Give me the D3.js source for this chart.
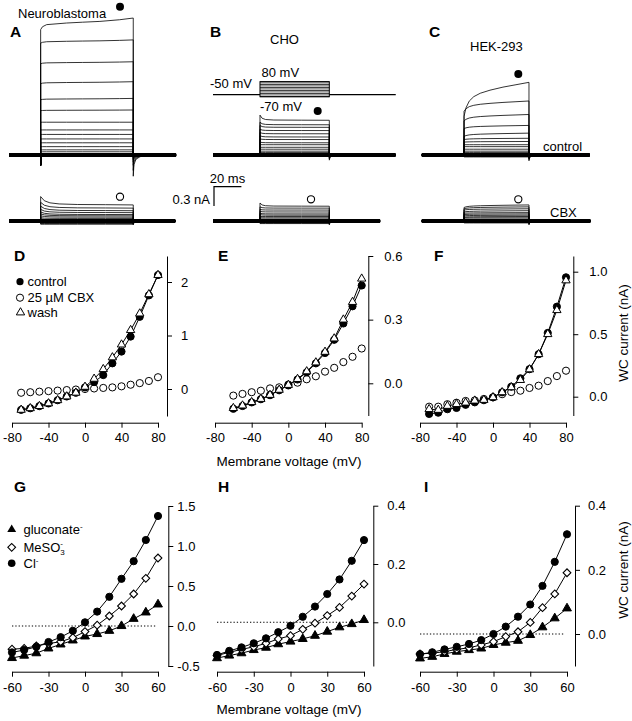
<!DOCTYPE html>
<html><head><meta charset="utf-8">
<script src="https://cdn.jsdelivr.net/npm/d3@7"></script>
<style>
body{margin:0;background:#fff}
svg{display:block}
text{font-family:"Liberation Sans",Arial,sans-serif;fill:#000}
</style>
</head><body>
<svg id="c" width="632" height="721"></svg>
<script>
// ================= DATA =================
// voltage steps (mV) of the protocol, holding potential
const stepVoltages = [-70,-60,-50,-40,-30,-20,-10,0,10,20,30,40,50,60,70,80];
const holdingPotential = -50;

// whole-cell current traces (nA): value at start and end of pulse, tail at pulse off
const cellNames = ["Neuroblastoma", "CHO", "HEK-293"];
const pulseOnMs  = [23.1, 34.3, 30.9];
const pulseOffMs = [90.7, 84.9, 78.3];
const sweepEndMs = [122, 133.4, 122.8];
const cbxSweepEndMs = [121.5, 122, 123.3];
const onsetDip = [-0.16, 0, 0];

const neuroStart = [-0.02,0.02,0.05,0.08,0.13,0.19,0.25,0.32,0.39,0.51,0.69,0.86,1.11,1.42,1.74,1.95];
const neuroEnd   = [-0.02,0.02,0.05,0.08,0.13,0.19,0.25,0.32,0.39,0.51,0.70,0.88,1.14,1.45,1.79,2.13];
const neuroTail  = [0,0,0,0,0,0,-0.01,-0.02,-0.03,-0.04,-0.06,-0.08,-0.11,-0.16,-0.24,-0.33];
const choStart   = [-0.02,0,0.02,0.04,0.06,0.09,0.12,0.16,0.2,0.25,0.3,0.35,0.4,0.46,0.51,0.62];
const choEnd     = [-0.02,0,0.02,0.04,0.06,0.09,0.12,0.16,0.19,0.24,0.28,0.33,0.38,0.43,0.47,0.54];
const choTail    = [0,0,0,0,0,0,0,-0.01,-0.01,-0.02,-0.03,-0.03,-0.04,-0.05,-0.06,-0.08];
const hekStart   = [-0.03,-0.02,0,0.02,0.04,0.06,0.09,0.13,0.16,0.2,0.24,0.29,0.41,0.53,0.68,0.6];
const hekEnd     = [-0.03,-0.02,0,0.02,0.04,0.06,0.09,0.13,0.16,0.21,0.26,0.34,0.46,0.63,0.84,1.13];
const hekTail    = [0,0,0,0,0,0,-0.01,-0.01,-0.02,-0.02,-0.03,-0.04,-0.05,-0.06,-0.07,-0.09];

const cbxNeuroStart = [-0.05,-0.04,-0.03,-0.02,-0.01,0,0.01,0.03,0.05,0.08,0.11,0.14,0.18,0.23,0.29,0.38];
const cbxNeuroEnd   = [-0.05,-0.04,-0.03,-0.02,-0.01,0,0.01,0.02,0.04,0.06,0.08,0.1,0.13,0.16,0.2,0.25];
const cbxChoStart   = [-0.04,-0.03,-0.02,-0.01,0,0.01,0.02,0.03,0.05,0.07,0.1,0.12,0.15,0.18,0.22,0.28];
const cbxChoEnd     = [-0.04,-0.03,-0.02,-0.01,0,0.01,0.02,0.03,0.05,0.07,0.09,0.11,0.14,0.17,0.2,0.23];
const cbxHekStart   = [-0.03,-0.02,-0.01,0,0.01,0.02,0.03,0.05,0.06,0.08,0.1,0.12,0.14,0.17,0.19,0.21];
const cbxHekEnd     = [-0.03,-0.02,-0.01,0,0.01,0.02,0.03,0.05,0.07,0.09,0.11,0.13,0.16,0.19,0.22,0.25];
const cbxTail       = [0,0,0,0,0,0,0,-0.01,-0.01,-0.02,-0.02,-0.03,-0.03,-0.04,-0.05,-0.06];

// time courses within the pulse (fraction of pulse, fraction from start to end value)
const neuroShapeT = [0,0.02,0.065,0.28,0.45,0.64,0.85,1];
const neuroShapeF = [0,0.25,0.43,0.57,0.64,0.71,0.85,1];
const choShapeT = [0,0.03,0.08,0.2,0.6,1];
const choShapeF = [0,0.6,0.85,0.95,0.98,1];
const hekShapeT = [0,0.03,0.08,0.15,0.25,0.4,0.6,0.8,1];
const hekShapeF = [0,0.25,0.45,0.58,0.68,0.77,0.86,0.93,1];
const cbxDecayT = [0,0.04,0.1,0.2,0.4,0.7,1];
const cbxDecayF = [0,0.5,0.75,0.88,0.95,0.97,1];
const tailMs = [0.5,2,5,12];
const tailFrac = [0.45,0.2,0.08,0];

// scale bars
const scaleBarMs = 20, scaleBarNA = 0.3;

// I-V data, panels D-F (nA)
const vD = [-70,-60,-50,-40,-30,-20,-10,0,10,20,30,40,50,60,70,80];
const dControl = [-0.39,-0.36,-0.32,-0.27,-0.21,-0.14,-0.07,0.03,0.13,0.26,0.48,0.70,0.98,1.35,1.75,2.13];
const dCbx     = [-0.07,-0.06,-0.05,-0.04,-0.03,-0.02,-0.01,0,0.01,0.02,0.03,0.05,0.08,0.11,0.15,0.22];
const dWash    = [-0.39,-0.36,-0.32,-0.27,-0.21,-0.14,-0.07,0.04,0.19,0.37,0.59,0.83,1.10,1.41,1.77,2.13];
const vE = [-60,-50,-40,-30,-20,-10,0,10,20,30,40,50,60,70,80];
const eControl = [-0.12,-0.107,-0.09,-0.075,-0.056,-0.033,-0.01,0.018,0.052,0.094,0.143,0.205,0.282,0.363,0.461];
const eCbx     = [-0.058,-0.05,-0.042,-0.035,-0.024,-0.019,-0.006,0.003,0.019,0.033,0.055,0.073,0.1,0.125,0.164];
const eWash    = [-0.117,-0.105,-0.089,-0.074,-0.055,-0.031,-0.008,0.02,0.056,0.098,0.148,0.211,0.30,0.383,0.493];
const vF = [-70,-60,-50,-40,-30,-20,-10,0,10,20,30,40,50,60,70,80];
const fControl = [-0.138,-0.128,-0.1,-0.09,-0.065,-0.045,-0.028,-0.005,0.035,0.08,0.147,0.22,0.34,0.51,0.72,0.955];
const fCbx     = [-0.08,-0.08,-0.06,-0.048,-0.034,-0.03,-0.018,-0.005,0.02,0.037,0.048,0.07,0.088,0.125,0.165,0.208];
const fWash    = [-0.1,-0.106,-0.074,-0.06,-0.048,-0.032,-0.026,-0.005,0.035,0.075,0.133,0.218,0.34,0.5,0.692,0.93];

// I-V data, panels G-I (nA)
const vG = [-60,-50,-40,-30,-20,-10,0,10,20,30,40,50,60];
const gGluconate = [-0.40,-0.37,-0.34,-0.28,-0.23,-0.18,-0.13,-0.10,-0.06,0.0,0.09,0.17,0.27];
const gMeSO3     = [-0.29,-0.28,-0.25,-0.22,-0.196,-0.146,-0.07,0.01,0.125,0.25,0.40,0.596,0.85];
const gCl        = [-0.33,-0.30,-0.26,-0.20,-0.14,-0.06,0.046,0.18,0.365,0.59,0.81,1.075,1.375];
const hGluconate = [-0.123,-0.114,-0.106,-0.095,-0.087,-0.075,-0.066,-0.057,-0.046,-0.032,-0.017,-0.006,0.008];
const hMeSO3     = [-0.114,-0.103,-0.093,-0.084,-0.072,-0.057,-0.046,-0.024,-0.003,0.023,0.051,0.09,0.131];
const hCl        = [-0.112,-0.098,-0.086,-0.072,-0.055,-0.034,-0.012,0.019,0.054,0.097,0.147,0.211,0.282];
const iGluconate = [-0.076,-0.071,-0.062,-0.055,-0.05,-0.045,-0.034,-0.027,-0.021,-0.003,0.021,0.049,0.08];
const iMeSO3     = [-0.062,-0.06,-0.055,-0.048,-0.043,-0.034,-0.024,-0.008,0.007,0.036,0.082,0.125,0.191];
const iCl        = [-0.063,-0.057,-0.048,-0.04,-0.031,-0.019,0.0,0.023,0.054,0.092,0.15,0.225,0.311];

// tick labels
const ticksX1 = [-80,-40,0,40,80];
const ticksX2 = [-60,-30,0,30,60];
const ticksD = [0,1,2], ticksE = [0,0.3,0.6], ticksF = [0,0.5,1.0];
const ticksG = [-0.5,0,0.5,1.0,1.5], ticksH = [0,0.2,0.4], ticksI = [0,0.2,0.4];

// ================= DRAW =================
const svg = d3.select("#c");
const PX_MS = 1.37, PX_NA = 64.3;

function txt(x, y, s, opt = {}) {
  const t = svg.append("text").attr("x", x).attr("y", y)
    .attr("font-size", opt.size || 13).text(s);
  if (opt.bold) t.attr("font-weight", "bold");
  if (opt.anchor) t.attr("text-anchor", opt.anchor);
  return t;
}

// ---- current traces ----
const lineGen = d3.line();
function drawSweeps(ci, x0, base, starts, ends, tails, shT, shF, sweepEnd, dip) {
  const xs = d3.scaleLinear().domain([0, 1]).range([x0, x0 + PX_MS]);
  const ys = d3.scaleLinear().domain([0, 1]).range([base, base - PX_NA]);
  const tOn = pulseOnMs[ci], tOff = pulseOffMs[ci];
  // baseline band
  svg.append("path").attr("d", lineGen([[xs(0), ys(0)], [xs(sweepEnd), ys(0)]]))
    .attr("stroke", "#000").attr("stroke-width", 4).attr("fill", "none");
  const g = svg.append("g");
  starts.forEach((s, k) => {
    const e = ends[k], tl = tails[k];
    const pts = [[0, 0], [tOn, 0]];
    if (dip) pts.push([tOn, dip]);
    shT.forEach((f, j) => pts.push([tOn + f * (tOff - tOn), s + (e - s) * shF[j]]));
    pts.push([tOff, tl]);
    tailMs.forEach((tt, j) => pts.push([tOff + tt, tl * tailFrac[j]]));
    pts.push([sweepEnd, 0]);
    g.append("path").attr("d", lineGen(pts.map(p => [xs(p[0]), ys(p[1])])))
      .attr("fill", "none").attr("stroke", "#000").attr("stroke-width", 0.8);
  });
  return {xs, ys};
}

const ctrlBase = 155, cbxBase = 221;
const cellX0 = [9, 213, 421.7];
drawSweeps(0, cellX0[0], ctrlBase, neuroStart, neuroEnd, neuroTail, neuroShapeT, neuroShapeF, sweepEndMs[0], onsetDip[0]);
const bScales = drawSweeps(1, cellX0[1], ctrlBase, choStart, choEnd, choTail, choShapeT, choShapeF, sweepEndMs[1], onsetDip[1]);
drawSweeps(2, cellX0[2], ctrlBase, hekStart, hekEnd, hekTail, hekShapeT, hekShapeF, sweepEndMs[2], onsetDip[2]);
drawSweeps(0, cellX0[0], cbxBase, cbxNeuroStart, cbxNeuroEnd, cbxTail, cbxDecayT, cbxDecayF, cbxSweepEndMs[0], 0);
drawSweeps(1, cellX0[1], cbxBase, cbxChoStart, cbxChoEnd, cbxTail, choShapeT, choShapeF, cbxSweepEndMs[1], 0);
drawSweeps(2, cellX0[2], cbxBase, cbxHekStart, cbxHekEnd, cbxTail, hekShapeT, hekShapeF, cbxSweepEndMs[2], 0);

// voltage protocol (CHO panel)
const vScale = d3.scaleLinear().domain([-70, 80]).range([96.7, 81.7]);
const bx = bScales.xs;
svg.append("path").attr("d", lineGen([[bx(0), vScale(holdingPotential)], [bx(sweepEndMs[1]), vScale(holdingPotential)]]))
  .attr("stroke", "#000").attr("stroke-width", 1.2).attr("fill", "none");
svg.append("rect").attr("x", bx(pulseOnMs[1])).attr("y", vScale(80))
  .attr("width", bx(pulseOffMs[1]) - bx(pulseOnMs[1])).attr("height", vScale(-70) - vScale(80))
  .attr("fill", "#bbb").attr("stroke", "#000").attr("stroke-width", 1);
stepVoltages.forEach((v, k) => {
  if (k % 3 !== 0) return;
  svg.append("path").attr("d", lineGen([[bx(pulseOnMs[1]), vScale(v)], [bx(pulseOffMs[1]), vScale(v)]]))
    .attr("stroke", "#000").attr("stroke-width", 0.8);
});
txt(261.5, 77, "80 mV");
txt(210, 88, "-50 mV");
txt(260, 110.5, "-70 mV");

// marker dots on traces
[[120, 6.7], [317.7, 111], [518.3, 74]].forEach(p =>
  svg.append("circle").attr("cx", p[0]).attr("cy", p[1]).attr("r", 4).attr("fill", "#000"));
[[120, 196.7], [311, 199.3], [518.3, 199.3]].forEach(p =>
  svg.append("circle").attr("cx", p[0]).attr("cy", p[1]).attr("r", 3.6).attr("fill", "#fff").attr("stroke", "#000").attr("stroke-width", 1.1));

// scale bars
const sbx = d3.scaleLinear().domain([0, scaleBarMs]).range([214, 214 + scaleBarMs * PX_MS]);
const sby = d3.scaleLinear().domain([0, scaleBarNA]).range([186.7, 186.7 + scaleBarNA * PX_NA]);
svg.append("path").attr("d", lineGen([[sbx(scaleBarMs), sby(0)], [sbx(0), sby(0)], [sbx(0), sby(scaleBarNA)]]))
  .attr("fill", "none").attr("stroke", "#000").attr("stroke-width", 1.2);
txt(227.5, 183, scaleBarMs + " ms", {anchor: "middle"});
txt(210, 204, scaleBarNA + " nA", {anchor: "end"});

// labels top
txt(10, 37, "A", {bold: true, size: 15.5});
txt(210, 37, "B", {bold: true, size: 15.5});
txt(429, 37, "C", {bold: true, size: 15.5});
txt(18, 18, cellNames[0]);
txt(270, 44, cellNames[1]);
txt(470, 50.5, cellNames[2]);
txt(543, 151, "control");
txt(550, 216.5, "CBX");

// ---- I-V panels ----
function fmt(d) { return Number.isInteger(d) ? String(d) : d.toFixed(1); }
function fmt1(d) { return d.toFixed(1); }

function panel(cfg) {
  const x = d3.scaleLinear().domain(cfg.xd).range(cfg.xr);
  const y = d3.scaleLinear().domain(cfg.yd).range(cfg.yr);
  const yAx = y.copy().domain([y.invert(cfg.yAxisPx[0]), y.invert(cfg.yAxisPx[1])]).range(cfg.yAxisPx);
  const gx = svg.append("g").attr("transform", `translate(0,${cfg.xAxisY})`)
    .call(d3.axisBottom(x).tickValues(cfg.xt).tickFormat(fmt).tickSize(5).tickSizeOuter(0).tickPadding(cfg.xPad));
  const gy = svg.append("g").attr("transform", `translate(${cfg.yAxisX},0)`)
    .call(d3.axisRight(yAx).tickValues(cfg.yt).tickFormat(cfg.yfmt).tickSize(5).tickSizeOuter(0).tickPadding(cfg.yPad));
  [gx, gy].forEach(g => {
    g.attr("font-size", null).attr("font-family", null);
    g.selectAll("text").attr("font-size", 13).attr("fill", "#000");
    g.selectAll("path,line").attr("stroke", "#000").attr("stroke-width", 1);
  });
  return {x, y};
}

function series(p, xs, ys, opt) {
  const pts = xs.map((v, i) => [p.x(v), p.y(ys[i])]);
  if (opt.line) svg.append("path").attr("d", d3.line()(pts)).attr("fill", "none")
    .attr("stroke", "#000").attr("stroke-width", 1);
  return pts;
}
function marks(pts, kind, filled) {
  const fill = filled ? "#000" : "#fff";
  pts.forEach(pt => {
    if (kind === "circle") {
      svg.append("circle").attr("cx", pt[0]).attr("cy", pt[1]).attr("r", 3.6)
        .attr("fill", fill).attr("stroke", "#000").attr("stroke-width", 1);
    } else if (kind === "triangle") {
      svg.append("path").attr("d", d3.symbol(d3.symbolTriangle, filled ? 34 : 30)())
        .attr("transform", `translate(${pt[0]},${pt[1]})`)
        .attr("fill", fill).attr("stroke", "#000").attr("stroke-width", 1);
    } else {
      svg.append("path").attr("d", d3.symbol(d3.symbolSquare, 30)())
        .attr("transform", `translate(${pt[0]},${pt[1]}) rotate(45)`)
        .attr("fill", fill).attr("stroke", "#000").attr("stroke-width", 1.1);
    }
  });
}

const topRow = {xAxisY: 422.7, xPad: 5, yAxisPx: [415.5, 256]};
const pD = panel({...topRow, xd: [-80, 80], xr: [12, 158], xt: ticksX1, yd: [0, 2], yr: [389, 282], yAxisX: 167, yt: ticksD, yfmt: fmt, yPad: 9, yAxisPx: [416, 256]});
const pE = panel({...topRow, xd: [-80, 80], xr: [215, 361.7], xt: ticksX1, yd: [0, 0.6], yr: [383.3, 256], yAxisX: 368.3, yt: ticksE, yfmt: fmt1, yPad: 11});
const pF = panel({...topRow, xd: [-80, 80], xr: [420, 566], xt: ticksX1, yd: [0, 1], yr: [396.7, 271.7], yAxisX: 573.3, yt: ticksF, yfmt: fmt1, yPad: 11});

[[pD, vD, dControl, dCbx, dWash], [pE, vE, eControl, eCbx, eWash], [pF, vF, fControl, fCbx, fWash]].forEach(([p, v, c, x, w]) => {
  const pc = series(p, v, c, {line: true});
  const pw = series(p, v, w, {line: true});
  const px = series(p, v, x, {line: false});
  marks(px, "circle", false);
  marks(pc, "circle", true);
  marks(pw, "triangle", false);
});

const botRow = {xAxisY: 671.7, xPad: 6, xd: [-60, 60], xt: ticksX2};
const pG = panel({...botRow, xr: [12, 158], yd: [-0.5, 1.5], yr: [666, 506], yAxisX: 168.3, yAxisPx: [666, 506], yt: ticksG, yfmt: fmt1, yPad: 4});
const pH = panel({...botRow, xr: [217, 364], yd: [0, 0.4], yr: [622.3, 505.7], yAxisX: 373.3, yAxisPx: [666, 505.7], yt: ticksH, yfmt: fmt1, yPad: 9});
const pI = panel({...botRow, xr: [420, 567], yd: [0, 0.4], yr: [634, 505.7], yAxisX: 575, yAxisPx: [666, 505.7], yt: ticksI, yfmt: fmt1, yPad: 8});

[[pG, gGluconate, gMeSO3, gCl], [pH, hGluconate, hMeSO3, hCl], [pI, iGluconate, iMeSO3, iCl]].forEach(([p, gl, me, cl]) => {
  svg.append("path").attr("d", d3.line()([[p.x(-60), p.y(0)], [p.x(58), p.y(0)]]))
    .attr("stroke", "#000").attr("stroke-width", 1.1).attr("stroke-dasharray", "1.3,2").attr("fill", "none");
  const a = series(p, vG, gl, {line: true});
  const b = series(p, vG, me, {line: true});
  const c = series(p, vG, cl, {line: true});
  marks(a, "triangle", true);
  marks(b, "diamond", false);
  marks(c, "circle", true);
});

// panel letters
[["D", 14, 261], ["E", 218, 261], ["F", 434, 261], ["G", 14, 492], ["H", 218, 492], ["I", 424, 492]]
  .forEach(([s, x, y]) => txt(x, y, s, {bold: true, size: 15.5}));

// axis titles
txt(289, 466, "Membrane voltage (mV)", {anchor: "middle", size: 13.5});
txt(289, 714, "Membrane voltage (mV)", {anchor: "middle", size: 13.5});
[[623, 333], [623, 570]].forEach(([x, y]) =>
  svg.append("text").attr("transform", `translate(${x},${y}) rotate(-90)`)
    .attr("text-anchor", "middle").attr("dominant-baseline", "central")
    .attr("font-size", 13.5).text("WC current (nA)"));

// legend D
svg.append("circle").attr("cx", 20).attr("cy", 281.7).attr("r", 3.6).attr("fill", "#000");
svg.append("circle").attr("cx", 20).attr("cy", 297.7).attr("r", 3.6).attr("fill", "#fff").attr("stroke", "#000");
svg.append("path").attr("d", d3.symbol(d3.symbolTriangle, 30)()).attr("transform", "translate(20.5,312.5)")
  .attr("fill", "#fff").attr("stroke", "#000");
txt(27.5, 286.3, "control");
txt(27.5, 302.3, "25 \u00B5M CBX");
txt(27.5, 316.5, "wash");

// legend G
svg.append("path").attr("d", d3.symbol(d3.symbolTriangle, 34)()).attr("transform", "translate(11.7,529.5)").attr("fill", "#000");
svg.append("path").attr("d", d3.symbol(d3.symbolSquare, 30)()).attr("transform", "translate(11.7,547.3) rotate(45)")
  .attr("fill", "#fff").attr("stroke", "#000").attr("stroke-width", 1.1);
svg.append("circle").attr("cx", 11.7).attr("cy", 563.3).attr("r", 3.8).attr("fill", "#000");
const l1 = txt(23.5, 534, "gluconate"); l1.append("tspan").attr("dy", -5).attr("font-size", 8).text("-");
const l2 = txt(23.5, 552, "MeSO"); l2.append("tspan").attr("dy", 3).attr("font-size", 8).text("3");
l2.append("tspan").attr("dy", -9).attr("dx", -4.5).attr("font-size", 8).text("-");
const l3 = txt(23.5, 568, "Cl"); l3.append("tspan").attr("dy", -5).attr("font-size", 8).text("-");
</script>
</body></html>
